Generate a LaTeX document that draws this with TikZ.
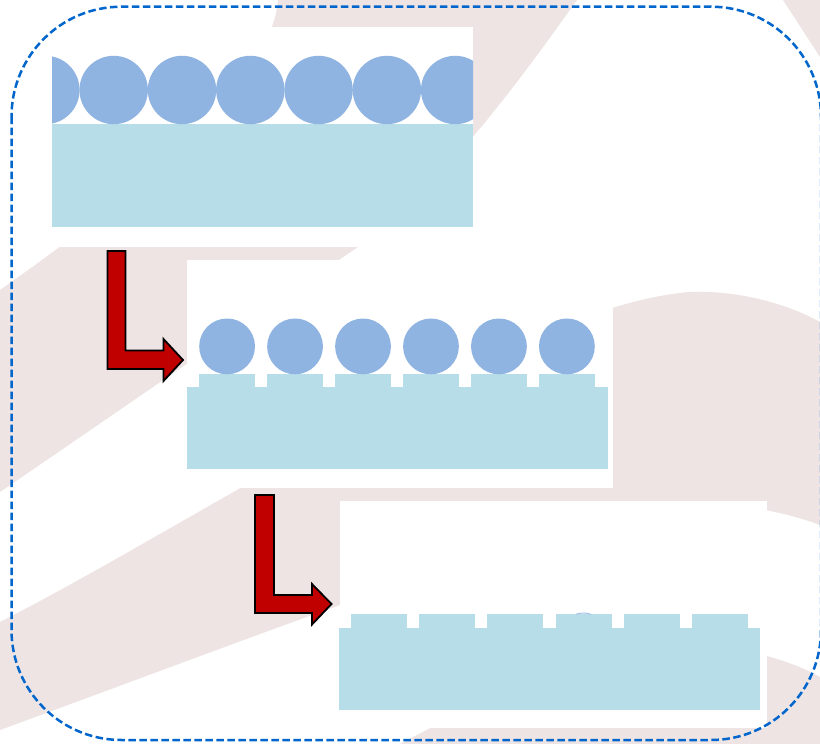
\documentclass[tikz,border=0pt]{standalone}
\usetikzlibrary{calc}
\definecolor{wmpink}{RGB}{238,228,228}
\definecolor{subblue}{RGB}{183,221,232}
\definecolor{ballblue}{RGB}{143,180,226}
\definecolor{arrred}{RGB}{192,0,0}
\definecolor{borderblue}{RGB}{0,102,204}
\tikzset{
  wm/.style={fill=wmpink},
  panelbg/.style={fill=white},
  sub/.style={fill=subblue},
  ball/.style={fill=ballblue},
  bentarrow/.style={fill=arrred, draw=black, line width=1.8pt, line join=miter},
  border/.style={draw=borderblue, line width=2.5pt, dash pattern=on 7.5pt off 3.5pt},
}
\begin{document}
\begin{tikzpicture}[x=1pt,y=-1pt]
\useasboundingbox (0,0) rectangle (820,744);
\fill[white] (0,0) rectangle (820,744);
% watermark swooshes
\fill[wm] (278,0) -- (577,0) .. controls (520,80) and (440,190) .. (358,247)
  .. controls (250,320) and (120,410) .. (0,492) -- (0,290)
  .. controls (100,220) and (272,90) .. (278,0) -- cycle;
\fill[wm] (0,622) .. controls (200,520) and (520,305) .. (690,292)
  .. controls (740,290) and (790,305) .. (820,322) -- (820,525)
  .. controls (780,510) and (730,502) .. (680,504)
  .. controls (500,540) and (300,620) .. (0,730) -- cycle;
\fill[wm] (400,744) .. controls (500,690) and (600,650) .. (690,647)
  .. controls (740,645) and (790,660) .. (820,677) -- (820,744) -- cycle;
\fill[wm] (783,0) -- (820,0) -- (820,57) -- cycle;
% panel 1
\coordinate (p1a) at (52,27);
\coordinate (p1b) at (473,247);
\fill[panelbg] (p1a) rectangle (p1b);
\fill[sub] (52,124) rectangle (473,227);
\begin{scope}
  \clip (52,27) rectangle (473,124.5);
  \foreach \k in {0,...,6} \fill[ball] ({45.4+68.3*\k},90) circle (34.2);
\end{scope}
% panel 2
\coordinate (p2a) at (187,260);
\coordinate (p2b) at (613,488);
\fill[panelbg] (p2a) rectangle (p2b);
\fill[sub] (187,386.7) rectangle (608,468.7);
\foreach \k in {0,...,5} {
  \fill[sub] ({199.2+67.96*\k},374.3) rectangle ++(55.8,12.7);
  \fill[ball] ({227.1+67.96*\k},346.4) circle (27.9);
}
% panel 3
\coordinate (p3a) at (340,501);
\coordinate (p3b) at (767,728);
\fill[panelbg] (p3a) rectangle (p3b);
\fill[sub] (339,628) rectangle (760,709.7);
\foreach \k in {0,...,5} {
  \fill[sub] ({351+68.2*\k},614.3) rectangle ++(56,13.9);
}
\draw[ballblue!80, line width=1pt] (576,614.3) .. controls (580,612.6) and (587,612.6) .. (591,614.3);
% bent arrows
\draw[bentarrow] (107.5,251) -- (125.5,251) -- (125.5,350.5) -- (163.5,350.5) -- (163.5,339)
  -- (183,360) -- (163.5,381) -- (163.5,369) -- (107.5,369) -- cycle;
\draw[bentarrow] (255,495) -- (274,495) -- (274,595) -- (312,595) -- (312,584)
  -- (331.5,604) -- (312,624.5) -- (312,613) -- (255,613) -- cycle;
% dashed frame
\draw[border, rounded corners=110pt] (11.5,6.7) rectangle (821,740);
\end{tikzpicture}
\end{document}
